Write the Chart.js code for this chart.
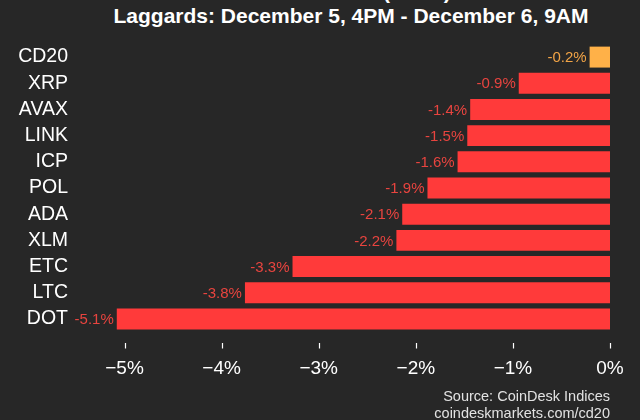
<!DOCTYPE html>
<html>
<head>
<meta charset="utf-8">
<script src="https://cdn.jsdelivr.net/npm/chart.js@4"></script>
<style>
  body { margin: 0; background: #272727; width: 640px; height: 420px; overflow: hidden; position: relative; font-family: "Liberation Sans", Arial, sans-serif; }
  #title { position: absolute; left: 0; top: -20px; width: 702px; text-align: center; color: #fff; font-weight: bold; font-size: 21px; line-height: 24px; }
  #wrap { position: absolute; left: 0; top: 0; width: 640px; height: 420px; }
  #source { position: absolute; right: 30px; top: 388px; text-align: right; color: #e2e2e2; font-size: 14.5px; line-height: 16.5px; }
</style>
</head>
<body>
<div id="title">CoinDesk 20 (CD20)<br>Laggards: December 5, 4PM - December 6, 9AM</div>
<div id="wrap"><canvas id="chart" width="640" height="420"></canvas></div>
<div id="source">Source: CoinDesk Indices<br>coindeskmarkets.com/cd20</div>
<script>
// Dữ liệu
const assets = ['CD20', 'XRP', 'AVAX', 'LINK', 'ICP', 'POL', 'ADA', 'XLM', 'ETC', 'LTC', 'DOT'];
const changes = [-0.21, -0.94, -1.44, -1.47, -1.57, -1.88, -2.14, -2.2, -3.27, -3.76, -5.08];
const xTicks = [-5, -4, -3, -2, -1, 0];

const FONT = '"Liberation Sans", Arial, sans-serif';

// Nhãn giá trị ở đầu mỗi thanh
const barLabels = {
  id: 'barLabels',
  afterDatasetsDraw(chart) {
    const c = chart.ctx;
    const meta = chart.getDatasetMeta(0);
    c.save();
    c.font = '15px ' + FONT;
    c.textAlign = 'right';
    c.textBaseline = 'middle';
    meta.data.forEach((bar, i) => {
      c.fillStyle = i === 0 ? '#f2a446' : '#e8443f';
      c.fillText(changes[i].toFixed(1) + '%', bar.x - 3, bar.y + 1);
    });
    c.restore();
  }
};

// Vạch nhỏ trên trục x
const tickMarks = {
  id: 'tickMarks',
  afterDraw(chart) {
    const x = chart.scales.x;
    const c = chart.ctx;
    c.save();
    c.strokeStyle = '#ffffff';
    c.lineWidth = 1.2;
    c.beginPath();
    x.ticks.forEach(t => {
      const px = Math.round(x.getPixelForValue(t.value)) + 0.5;
      c.moveTo(px, x.top + 11);
      c.lineTo(px, x.top + 16.5);
    });
    c.stroke();
    c.restore();
  }
};

const ctx = document.getElementById('chart').getContext('2d');

const chart = new Chart(ctx, {
  type: 'bar',
  data: {
    labels: assets,
    datasets: [{
      data: changes,
      backgroundColor: c => c.dataIndex === 0 ? '#ffb148' : '#ff3a3a',
      borderWidth: 0,
      categoryPercentage: 1,
      barPercentage: 0.8
    }]
  },
  options: {
    indexAxis: 'y',
    responsive: false,
    animation: false,
    devicePixelRatio: 1,
    layout: { padding: { left: 0, right: 30, top: 44, bottom: 39 } },
    scales: {
      x: {
        min: -5.5,
        max: 0,
        afterFit: s => { s.height = 49; s.paddingLeft = 0; s.paddingRight = 0; },
        afterBuildTicks: s => { s.ticks = xTicks.map(v => ({ value: v })); },
        grid: { display: false, drawTicks: false },
        border: { display: false },
        ticks: {
          color: '#ffffff',
          padding: 25,
          font: { family: FONT, size: 19 },
          callback: v => v === 0 ? '0%' : '\u2212' + Math.abs(v) + '%'
        }
      },
      y: {
        afterFit: s => { s.width = 76; },
        grid: { display: false, drawTicks: false },
        border: { display: false },
        ticks: {
          color: '#ffffff',
          padding: 8,
          autoSkip: false,
          font: { family: FONT, size: 19.5 }
        }
      }
    },
    plugins: {
      legend: { display: false },
      tooltip: { enabled: false }
    }
  },
  plugins: [barLabels, tickMarks]
});
</script>
</body>
</html>
